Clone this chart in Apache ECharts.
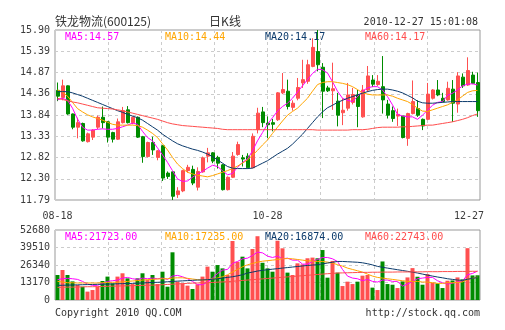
<!DOCTYPE html>
<html>
<head>
<meta charset="utf-8">
<script src="https://cdn.jsdelivr.net/npm/echarts@6/dist/echarts.min.js"></script>
<style>
  html, body { margin: 0; padding: 0; background: #fff; }
  #chart { width: 505px; height: 330px; }
</style>
</head>
<body>
<div id="chart"></div>
<script>
// Tick labels
const priceTicks = ['11.79', '12.30', '12.82', '13.33', '13.84', '14.36', '14.87', '15.39', '15.90'];
const volTicks = ['0', '13170', '26340', '39510', '52680'];
const dateLabels = ['08-18', '10-28', '12-27'];
const dateIndex = [0, 42, 84];

// Daily prices, 铁龙物流 (600125)
const open = [14.44,14.27,14.55,13.87,13.55,13.64,13.20,13.31,13.55,13.79,
  13.68,13.42,13.26,13.66,13.97,13.66,13.79,13.32,12.84,13.18,
  12.82,13.10,12.44,12.47,11.92,12.01,12.50,12.53,12.10,12.47,
  12.85,12.93,12.82,12.64,12.04,12.34,12.89,12.81,12.85,12.57,
  13.49,13.92,13.65,13.66,13.73,14.38,14.42,14.03,14.25,14.62,
  14.66,15.02,15.38,15.00,14.50,14.43,14.18,13.90,14.01,14.15,
  14.33,13.80,14.45,14.69,14.58,14.53,14.11,13.95,13.82,13.82,
  13.28,13.88,14.00,13.74,13.74,14.25,14.45,14.25,14.21,14.47,
  14.11,14.76,14.57,14.81,14.63];
const close = [14.30,14.55,13.87,13.55,13.66,13.22,13.39,13.48,13.79,13.66,
  13.31,13.26,13.68,13.95,13.66,13.79,13.31,12.84,13.18,13.00,
  12.98,12.32,12.36,11.88,12.01,12.50,12.58,12.20,12.48,12.81,
  12.93,12.73,12.68,12.04,12.34,12.85,13.13,12.78,12.57,13.33,
  13.89,13.66,13.61,13.62,14.38,14.46,14.05,14.13,14.51,14.70,
  15.06,15.48,15.06,14.42,14.43,14.48,13.84,13.96,14.33,14.34,
  14.05,14.45,14.79,14.59,14.66,14.21,13.84,13.76,13.86,13.30,
  13.88,14.17,13.84,13.58,14.35,14.45,14.33,14.17,14.49,14.13,
  14.79,14.55,14.92,14.61,13.95];
const low = [14.18,14.20,13.85,13.50,13.28,13.20,13.18,13.24,13.50,13.52,
  13.18,13.18,13.24,13.64,13.64,13.62,13.29,12.69,12.82,12.88,
  12.75,12.25,12.30,11.79,11.84,11.98,12.45,12.15,12.02,12.45,
  12.70,12.68,12.55,12.02,12.02,12.32,12.86,12.60,12.55,12.56,
  13.40,13.55,13.29,13.45,13.70,14.35,13.98,13.95,14.20,14.50,
  14.60,15.00,14.90,13.77,14.40,13.97,13.57,13.60,13.95,14.10,
  13.55,13.78,14.40,14.52,14.55,13.88,13.76,13.68,13.58,13.28,
  13.10,13.86,13.80,13.48,13.72,14.22,14.30,14.15,14.19,13.68,
  13.90,14.50,14.55,14.59,13.80];
const high = [14.63,14.70,14.56,13.88,13.78,13.66,13.42,13.50,13.83,14.05,
  13.70,13.44,13.76,14.04,14.06,13.81,13.81,13.34,13.20,13.32,
  13.00,13.12,12.48,12.48,12.10,12.52,12.64,12.62,12.58,12.84,
  13.05,12.95,12.86,12.66,12.36,12.95,13.20,12.88,12.92,13.40,
  14.02,14.04,13.81,13.75,14.40,14.86,14.70,14.20,14.74,15.18,
  15.18,15.70,15.90,15.10,14.55,15.11,14.38,14.25,14.62,14.50,
  14.45,14.57,15.03,14.81,14.81,15.27,14.21,14.05,14.00,13.82,
  13.90,14.68,14.20,13.76,14.62,14.47,14.69,14.38,14.65,14.69,
  14.88,14.85,15.24,14.89,14.87];

// Price moving averages
const ma5 = [14.21,14.25,14.20,14.01,13.75,13.55,13.48,13.48,13.50,13.51,
  13.50,13.50,13.52,13.56,13.60,13.65,13.62,13.45,13.30,13.22,
  13.05,12.88,12.70,12.50,12.30,12.24,12.25,12.34,12.42,12.48,
  12.56,12.63,12.60,12.50,12.40,12.43,12.58,12.70,12.78,12.98,
  13.22,13.42,13.62,13.78,13.94,14.05,14.13,14.25,14.40,14.55,
  14.70,14.85,14.95,14.94,14.86,14.65,14.42,14.25,14.20,14.17,
  14.29,14.42,14.50,14.53,14.53,14.45,14.29,14.09,13.86,13.82,
  13.80,13.80,13.74,13.84,13.96,14.08,14.15,14.17,14.32,14.37,
  14.45,14.55,14.59,14.60,14.57];
const ma10 = [14.45,14.40,14.30,14.15,14.00,13.92,13.85,13.80,13.76,13.72,
  13.67,13.62,13.60,13.60,13.60,13.60,13.59,13.55,13.48,13.40,
  13.30,13.15,13.00,12.82,12.66,12.55,12.46,12.42,12.39,12.37,
  12.35,12.38,12.42,12.46,12.50,12.55,12.61,12.68,12.76,12.87,
  12.99,13.12,13.24,13.40,13.55,13.70,13.84,13.93,14.01,14.13,
  14.25,14.42,14.58,14.63,14.65,14.65,14.63,14.61,14.58,14.53,
  14.46,14.38,14.35,14.33,14.33,14.33,14.33,14.30,14.25,14.21,
  14.17,14.10,14.01,13.94,13.93,13.97,14.01,14.05,14.09,14.15,
  14.21,14.30,14.39,14.43,14.44];
const ma20 = [14.41,14.41,14.41,14.38,14.34,14.30,14.25,14.20,14.15,14.10,
  14.05,14.00,13.95,13.91,13.86,13.82,13.78,13.72,13.64,13.56,
  13.48,13.38,13.30,13.22,13.15,13.10,13.06,13.02,12.99,12.95,
  12.90,12.84,12.76,12.68,12.60,12.56,12.55,12.55,12.55,12.56,
  12.62,12.68,12.74,12.82,12.90,12.97,13.04,13.14,13.26,13.38,
  13.52,13.66,13.80,13.92,14.02,14.08,14.15,14.20,14.25,14.29,
  14.33,14.37,14.41,14.44,14.46,14.47,14.47,14.45,14.42,14.38,
  14.32,14.26,14.18,14.14,14.13,14.13,14.14,14.15,14.16,14.17,
  14.17,14.17,14.17,14.17,14.17];
const ma60 = [14.25,14.22,14.19,14.16,14.14,14.11,14.08,14.05,14.02,14.01,
  14.00,13.99,13.97,13.95,13.92,13.89,13.86,13.83,13.80,13.77,
  13.74,13.70,13.66,13.63,13.61,13.59,13.58,13.57,13.56,13.55,
  13.54,13.53,13.52,13.50,13.49,13.49,13.49,13.49,13.49,13.49,
  13.49,13.49,13.49,13.49,13.49,13.49,13.49,13.49,13.49,13.49,
  13.49,13.49,13.48,13.48,13.48,13.48,13.48,13.48,13.48,13.49,
  13.49,13.49,13.50,13.52,13.54,13.55,13.55,13.55,13.55,13.56,
  13.56,13.57,13.58,13.59,13.60,13.60,13.62,13.64,13.66,13.68,
  13.71,13.74,13.78,13.83,13.87];

// Daily volume and its moving averages
const volume = [18800,22600,18800,14000,11300,10000,6300,7500,10000,14300,
  17600,12500,17600,20100,16300,12000,16300,20100,15000,18800,
  12000,21300,10000,35900,13800,12500,10800,8300,11800,17600,
  25100,21300,26300,23800,18800,44400,28800,32600,23800,38400,
  48000,28000,23800,21300,44600,38900,20600,18800,27600,26800,
  31400,31900,31400,37600,16800,29400,20600,10500,13800,12000,
  13800,18300,18800,9300,7500,29000,12000,11500,9000,14000,
  17000,24000,17500,11500,19500,13000,12500,9000,14500,14700,
  17000,15500,39000,18500,18600];
const vma5 = [15300,16000,16300,16000,15500,14000,12000,11000,11000,12500,
  14000,14500,15000,16500,17000,16000,15500,16500,16000,16500,
  16000,16500,15500,18000,18500,17500,16000,14000,11500,11500,
  13500,16500,20000,22500,23000,27500,29000,31000,31500,33500,
  36000,35500,33000,32000,33000,31000,31500,30000,30000,27000,
  27000,29000,30500,32000,32000,31000,29000,23000,18000,16500,
  16000,14500,15500,14000,13500,15000,15000,14000,14000,10500,
  12000,14000,16000,16500,17000,17000,14500,13000,12000,12700,
  13500,14300,19000,20000,21723];
const vma10 = [14000,13500,13000,13000,12800,12800,12800,12800,12800,13000,
  13200,13300,13400,13600,14000,14300,14600,15000,15300,15500,
  15800,16000,16000,16500,16700,16700,16300,15800,15300,15000,
  15300,15800,16500,17500,19000,21000,23000,25000,26500,27500,
  28500,29200,29600,30000,30500,31000,31200,31000,30500,30000,
  29500,29300,29000,29000,28500,27800,26600,25500,24000,23000,
  22000,21000,19500,18000,17000,16500,16000,15500,15000,14500,
  14000,14000,14000,13500,13500,13000,12500,12500,13000,13000,
  13200,13600,15500,16300,17235];
const vma20 = [11000,11100,11200,11300,11400,11500,11600,11700,11800,11900,
  12000,12100,12200,12300,12400,12500,12600,12800,13000,13200,
  13300,13500,13700,14000,14200,14400,14600,14800,15000,15100,
  15300,15600,16000,16500,17000,17500,18200,19000,20300,21000,
  21800,22300,22800,23200,23600,24000,24400,24800,25200,25600,
  26000,26300,26600,27200,27800,28400,29000,29000,28800,28600,
  28400,28000,27300,26400,25300,24600,24000,23400,22800,22200,
  21600,21000,20300,19500,18700,18000,17300,16700,16000,15500,
  15000,14800,15600,16300,16874];
const vma60 = [9500,9600,9700,9700,9800,9900,10000,10000,10100,10200,
  10300,10400,10500,10600,10700,10800,10900,11000,11100,11200,
  11300,11500,11700,11900,12100,12300,12500,12700,12800,12900,
  13000,13200,13400,13600,13800,14100,14400,14700,15000,15300,
  15600,15900,16200,16500,16800,17100,17400,17700,18000,18300,
  18600,18900,19200,19500,19800,20000,20300,20400,20500,20600,
  20700,20800,20800,20900,20900,21000,21000,21000,21100,21100,
  21100,21200,21200,21200,21300,21300,21300,21400,21400,21400,
  21500,21500,21500,21600,21600];

// Header and legend texts
const titleText = '铁龙物流(600125)';
const periodText = '日K线';
const timeText = '2010-12-27 15:01:08';
const priceLegend = ['MA5:14.57', 'MA10:14.44', 'MA20:14.17', 'MA60:14.17'];
const volLegend = ['MA5:21723.00', 'MA10:17235.00', 'MA20:16874.00', 'MA60:22743.00'];
const footLeft = 'Copyright 2010 QQ.COM';
const footRight = 'http://stock.qq.com';

const UP = '#ff5050';
const DOWN = '#008c00';
const MA_COLORS = ['#ff00ff', '#ffa500', '#0b3a6b', '#ff4d4d'];
const MONO = '"DejaVu Sans Mono", "Liberation Mono", monospace';
const LABEL = '#3c3c3c';

const PMIN = 11.79, PMAX = 15.90, PSTEP = (PMAX - PMIN) / 8;
const VMAX = 52680, VSTEP = 13170;

const cats = open.map((_, i) => String(i));
const kData = open.map((o, i) => [o, close[i], low[i], high[i]]);

const dashed = { show: true, lineStyle: { color: '#cccccc', type: [3, 3], width: 1 } };

function maLine(name, data, color, xi, yi) {
  return {
    name, type: 'line', data, xAxisIndex: xi, yAxisIndex: yi,
    symbol: 'none', showSymbol: false, smooth: false,
    lineStyle: { color, width: 1 }, z: 5, silent: true
  };
}

const legendX = [65, 165, 265, 365];
const graphics = [
  { type: 'text', x: 55, y: 21, style: { text: titleText, font: '12px "Noto Sans CJK SC"', fill: '#333', align: 'left', verticalAlign: 'middle' } },
  { type: 'text', x: 225, y: 21, style: { text: periodText, font: '12px "Noto Sans CJK SC"', fill: '#333', align: 'center', verticalAlign: 'middle' } },
  { type: 'text', x: 478, y: 22, style: { text: timeText, font: '10px ' + MONO, fill: '#333', align: 'right', verticalAlign: 'middle' } },
  { type: 'text', x: 55, y: 313, style: { text: footLeft, font: '10px ' + MONO, fill: '#333', align: 'left', verticalAlign: 'middle' } },
  { type: 'text', x: 480, y: 313, style: { text: footRight, font: '10px ' + MONO, fill: '#333', align: 'right', verticalAlign: 'middle' } }
];
priceLegend.forEach((t, i) => graphics.push({ type: 'text', x: legendX[i], y: 37, z: 10,
  style: { text: t, font: '10px ' + MONO, fill: MA_COLORS[i], align: 'left', verticalAlign: 'middle' } }));
volLegend.forEach((t, i) => graphics.push({ type: 'text', x: legendX[i], y: 237, z: 10,
  style: { text: t, font: '10px ' + MONO, fill: MA_COLORS[i], align: 'left', verticalAlign: 'middle' } }));

const option = {
  animation: false,
  backgroundColor: '#ffffff',
  grid: [
    { left: 55, right: 25, top: 30, height: 170, show: true, borderColor: '#999', borderWidth: 1, backgroundColor: 'transparent' },
    { left: 55, right: 25, top: 230, height: 70, show: true, borderColor: '#999', borderWidth: 1, backgroundColor: 'transparent' }
  ],
  xAxis: [
    {
      type: 'category', gridIndex: 0, data: cats, boundaryGap: true,
      axisLine: { show: false }, axisTick: { show: false }, splitLine: { show: false },
      axisLabel: {
        interval: (idx) => dateIndex.indexOf(idx) >= 0,
        formatter: (v) => {
          const k = dateIndex.indexOf(Number(v));
          if (k < 0) return '';
          return k === dateIndex.length - 1 ? '{e|' + dateLabels[k] + '}' : dateLabels[k];
        },
        margin: 11, fontFamily: MONO, fontSize: 10, color: LABEL,
        rich: { e: { padding: [0, 17, 0, 0], fontFamily: MONO, fontSize: 10, color: LABEL } }
      }
    },
    {
      type: 'category', gridIndex: 1, data: cats, boundaryGap: true,
      axisLine: { show: false }, axisTick: { show: false }, axisLabel: { show: false }, splitLine: { show: false }
    },
    {
      type: 'value', gridIndex: 0, min: 0, max: 8, interval: 1,
      axisLine: { show: false }, axisTick: { show: false }, axisLabel: { show: false }, splitLine: dashed
    },
    {
      type: 'value', gridIndex: 1, min: 0, max: 8, interval: 1,
      axisLine: { show: false }, axisTick: { show: false }, axisLabel: { show: false }, splitLine: dashed
    }
  ],
  yAxis: [
    {
      type: 'value', gridIndex: 0, min: PMIN, max: PMAX, interval: PSTEP, scale: true,
      axisLine: { show: false }, axisTick: { show: false }, splitLine: dashed,
      axisLabel: {
        margin: 5, fontFamily: MONO, fontSize: 10, color: LABEL,
        formatter: (v) => priceTicks[Math.round((v - PMIN) / PSTEP)] || ''
      }
    },
    {
      type: 'value', gridIndex: 1, min: 0, max: VMAX, interval: VSTEP,
      axisLine: { show: false }, axisTick: { show: false }, splitLine: dashed,
      axisLabel: {
        margin: 5, fontFamily: MONO, fontSize: 10, color: LABEL,
        formatter: (v) => volTicks[Math.round(v / VSTEP)] || ''
      }
    }
  ],
  series: [
    {
      name: 'K', type: 'candlestick', xAxisIndex: 0, yAxisIndex: 0, data: kData,
      barWidth: 3.5,
      itemStyle: { color: UP, color0: DOWN, borderColor: UP, borderColor0: DOWN, borderWidth: 1 },
      z: 3, silent: true
    },
    maLine('MA5', ma5, MA_COLORS[0], 0, 0),
    maLine('MA10', ma10, MA_COLORS[1], 0, 0),
    maLine('MA20', ma20, MA_COLORS[2], 0, 0),
    maLine('MA60', ma60, MA_COLORS[3], 0, 0),
    {
      name: 'VOL', type: 'bar', xAxisIndex: 1, yAxisIndex: 1, barWidth: 4,
      data: volume.map((v, i) => ({ value: v, itemStyle: { color: close[i] >= open[i] ? UP : DOWN } })),
      z: 3, silent: true
    },
    maLine('VMA5', vma5, MA_COLORS[0], 1, 1),
    maLine('VMA10', vma10, MA_COLORS[1], 1, 1),
    maLine('VMA20', vma20, MA_COLORS[2], 1, 1),
    maLine('VMA60', vma60, MA_COLORS[3], 1, 1)
  ],
  graphic: graphics
};

const chart = echarts.init(document.getElementById('chart'), null, { renderer: 'canvas' });
chart.setOption(option);
</script>
</body>
</html>
